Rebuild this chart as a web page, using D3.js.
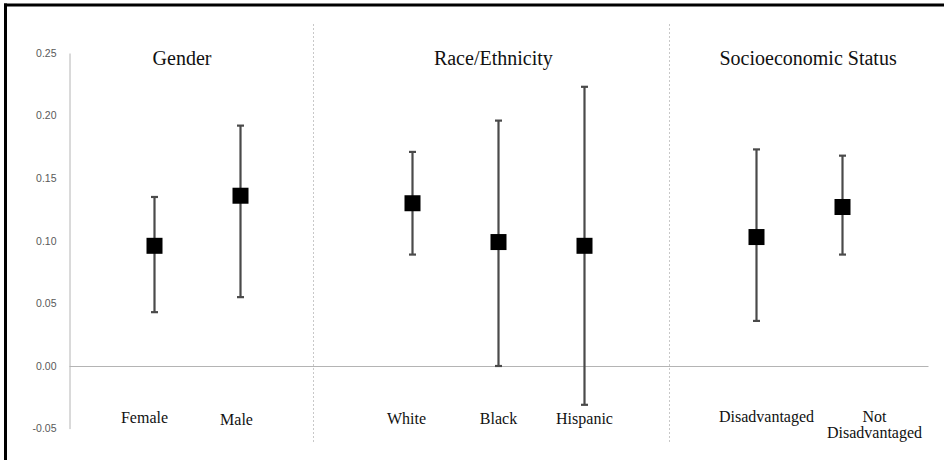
<!DOCTYPE html>
<html><head><meta charset="utf-8">
<script src="https://cdn.jsdelivr.net/npm/d3@7"></script>
<style>body{margin:0;background:#fff}svg{display:block}</style>
</head><body>
<svg id="chart" width="944" height="460"></svg>
<script>
// ---- data ----
const groups = ["Gender", "Race/Ethnicity", "Socioeconomic Status"];
const categories = ["Female", "Male", "White", "Black", "Hispanic", "Disadvantaged", "Not Disadvantaged"];
const categoryGroup = [0, 0, 1, 1, 1, 2, 2];
const estimates = [0.096, 0.136, 0.130, 0.099, 0.096, 0.103, 0.127];
const lower = [0.043, 0.055, 0.089, 0.000, -0.031, 0.036, 0.089];
const upper = [0.135, 0.192, 0.171, 0.196, 0.223, 0.173, 0.168];
const yTicks = [-0.05, 0.00, 0.05, 0.10, 0.15, 0.20, 0.25];

// ---- layout ----
const svg = d3.select("#chart");
const slots = [1, 2, 4, 5, 6, 8, 9];          // category slot positions
const separators = [2.84, 6.98];
const titleSlots = [1.32, 4.94, 8.6];
const labelShift = [-10, -4, -6, 0, 0, 10, 32];
const labelDy = [0, 2, 1, 1, 1, -1, -1];

const x = d3.scaleLinear().domain([0, 10]).range([68.5, 928.5]);
const y = d3.scaleLinear().domain([-0.05, 0.25]).range([428.6, 53]);

// frame (top and left)
svg.append("line").attr("x1", 4).attr("x2", 944).attr("y1", 5).attr("y2", 5)
  .attr("stroke", "#000").attr("stroke-width", 3);
svg.append("line").attr("x1", 5.5).attr("x2", 5.5).attr("y1", 3.5).attr("y2", 460)
  .attr("stroke", "#000").attr("stroke-width", 3);

// separators
svg.selectAll(".sep").data(separators).join("line").attr("class", "sep")
  .attr("x1", d => Math.round(x(d)) + 0.5).attr("x2", d => Math.round(x(d)) + 0.5)
  .attr("y1", 24).attr("y2", 443)
  .attr("stroke", "#c8c8c8").attr("stroke-width", 1).attr("stroke-dasharray", "2,2");

// y axis
const fmt = d3.format(".2f");
const yAxis = d3.axisLeft(y).tickValues(yTicks).tickSize(0).tickPadding(13)
  .tickFormat(d => fmt(d).replace("\u2212", "-"));
const ga = svg.append("g").attr("transform", "translate(69.5,0)").call(yAxis);
ga.select(".domain").attr("stroke", "#b4b4b4").attr("stroke-width", 1);
ga.selectAll("text").attr("font-family", "'Liberation Sans', Arial, sans-serif")
  .attr("font-size", 10.5).attr("fill", "#595959");

// zero line
svg.append("line").attr("x1", 69.5).attr("x2", x(10)).attr("y1", Math.round(y(0)) + 0.5).attr("y2", Math.round(y(0)) + 0.5)
  .attr("stroke", "#b4b4b4").attr("stroke-width", 1);

// group titles
svg.selectAll(".title").data(groups).join("text").attr("class", "title")
  .attr("x", (d, i) => x(titleSlots[i])).attr("y", 65)
  .attr("text-anchor", "middle")
  .attr("font-family", "'Liberation Serif', 'Times New Roman', serif")
  .attr("font-size", 20).attr("fill", "#111").text(d => d);

// error bars
const idx = d3.range(categories.length);
const eb = svg.append("g");
eb.selectAll(".bar").data(idx).join("line")
  .attr("x1", i => x(slots[i])).attr("x2", i => x(slots[i]))
  .attr("y1", i => y(lower[i])).attr("y2", i => y(upper[i]))
  .attr("stroke", "#4a4a4a").attr("stroke-width", 2.2);
["lo", "hi"].forEach(k => {
  eb.selectAll(".cap" + k).data(idx).join("line")
    .attr("x1", i => x(slots[i]) - 3.5).attr("x2", i => x(slots[i]) + 3.5)
    .attr("y1", i => y(k === "lo" ? lower[i] : upper[i]))
    .attr("y2", i => y(k === "lo" ? lower[i] : upper[i]))
    .attr("stroke", "#4a4a4a").attr("stroke-width", 2.2);
});

// point estimates
const s = 16;
svg.selectAll(".pt").data(idx).join("rect")
  .attr("x", i => x(slots[i]) - s / 2).attr("y", i => y(estimates[i]) - s / 2)
  .attr("width", s).attr("height", s).attr("fill", "#000");

// category labels
const lab = svg.selectAll(".lab").data(idx).join("text")
  .attr("text-anchor", "middle")
  .attr("font-family", "'Liberation Serif', 'Times New Roman', serif")
  .attr("font-size", 16).attr("fill", "#111")
  .attr("transform", i => `translate(${x(slots[i]) + labelShift[i]},${423 + labelDy[i]})`);
lab.each(function(i) {
  const words = categories[i] === "Not Disadvantaged" ? ["Not", "Disadvantaged"] : [categories[i]];
  d3.select(this).selectAll("tspan").data(words).join("tspan")
    .attr("x", 0).attr("dy", (w, j) => j === 0 ? 0 : 16).text(w => w);
});
</script>
</body></html>
